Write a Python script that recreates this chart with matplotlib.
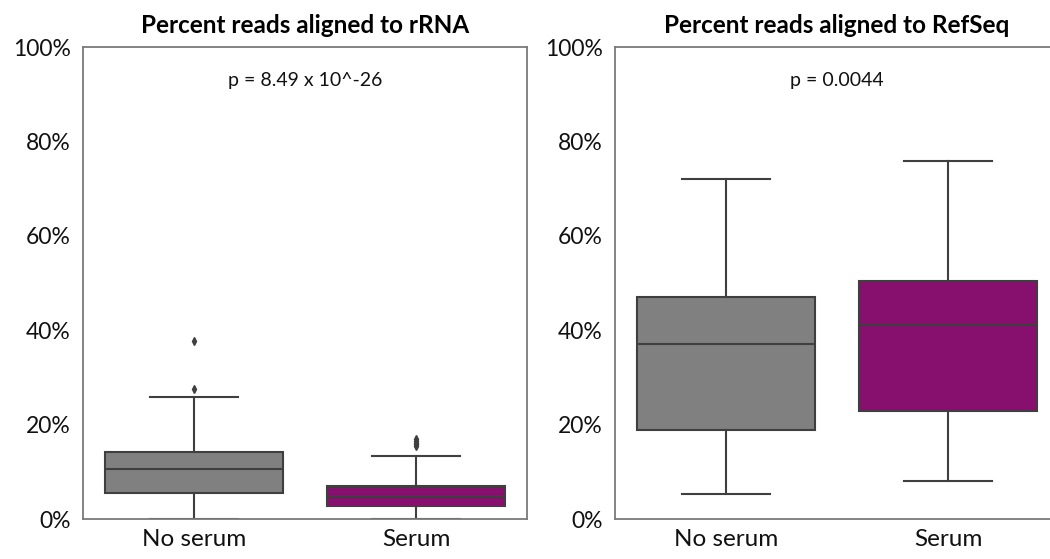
import matplotlib
matplotlib.use("Agg")
import matplotlib.pyplot as plt
from matplotlib.ticker import PercentFormatter

plt.rcParams['font.family'] = ['Lato', 'DejaVu Sans']

groups = ["No serum", "Serum"]
colors = ["#808080", "#870f6e"]

# five-number summaries (percent)
rrna_q1 = [5.5, 2.8]
rrna_med = [10.6, 4.9]
rrna_q3 = [14.2, 7.0]
rrna_lo = [0.0, 0.0]
rrna_hi = [25.8, 13.3]
rrna_fliers = [[27.6, 37.8], [15.4, 15.8, 16.2, 16.6, 17.0]]

refseq_q1 = [18.9, 22.9]
refseq_med = [37.1, 41.3]
refseq_q3 = [47.0, 50.4]
refseq_lo = [5.3, 8.0]
refseq_hi = [72.0, 75.8]

titles = ["Percent reads aligned to rRNA", "Percent reads aligned to RefSeq"]
pvals = ["p = 8.49 x 10^-26", "p = 0.0044"]


def make_stats(q1, med, q3, lo, hi, fliers=None):
    stats = []
    for i, name in enumerate(groups):
        stats.append(dict(label=name, q1=q1[i], med=med[i], q3=q3[i],
                          whislo=lo[i], whishi=hi[i],
                          fliers=fliers[i] if fliers else []))
    return stats


panels = [
    make_stats(rrna_q1, rrna_med, rrna_q3, rrna_lo, rrna_hi, rrna_fliers),
    make_stats(refseq_q1, refseq_med, refseq_q3, refseq_lo, refseq_hi),
]

fig = plt.figure(figsize=(10.5, 5.59), dpi=100)
W, H = 1050, 559
rects = [(83, 47, 444, 472), (615, 47, 444, 472)]

line_col = "#3f3f3f"
for k, (x0, y0, w, h) in enumerate(rects):
    ax = fig.add_axes([x0 / W, 1 - (y0 + h) / H, w / W, h / H])
    bp = ax.bxp(panels[k], positions=[0, 1], widths=0.8, patch_artist=True,
                capwidths=0.4,
                boxprops=dict(edgecolor=line_col, linewidth=1.5),
                medianprops=dict(color=line_col, linewidth=1.5),
                whiskerprops=dict(color=line_col, linewidth=1.5),
                capprops=dict(color=line_col, linewidth=1.5),
                flierprops=dict(marker='d', markersize=4, markerfacecolor=line_col,
                                markeredgecolor=line_col))
    for patch, c in zip(bp['boxes'], colors):
        patch.set_facecolor(c)
    ax.set_xlim(-0.5, 1.5)
    ax.set_ylim(0, 100)
    ax.set_yticks([0, 20, 40, 60, 80, 100])
    ax.yaxis.set_major_formatter(PercentFormatter(decimals=0))
    ax.tick_params(length=0, labelsize=16.5, colors="#111111", pad=9)
    ax.tick_params(axis='x', labelsize=17.5, pad=7)
    for s in ax.spines.values():
        s.set_color("#7a7a7a")
        s.set_linewidth(1.3)
    ax.set_title(titles[k], fontsize=17.5, fontweight='bold', pad=10)
    ax.text(0.5, 0.93, pvals[k], transform=ax.transAxes, ha='center',
            va='center', fontsize=14, color="#111111")

fig.savefig("out.png", dpi=100)
